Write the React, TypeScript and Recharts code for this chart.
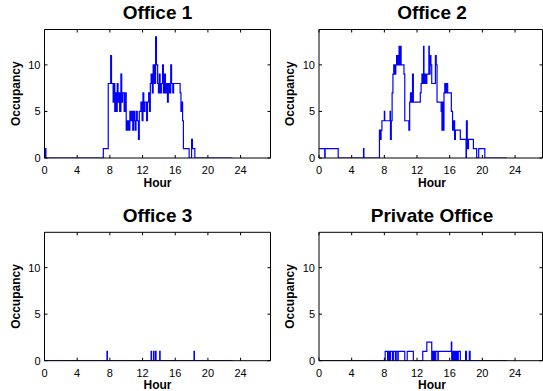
import { LineChart, Line, XAxis, YAxis } from "recharts";

// hours of the day (step changes) and occupancy counts, per office
const office1Hours = [0, 0.1, 0.17, 7.2, 7.8, 8.1, 8.2, 8.4, 8.5, 8.6, 8.7, 8.8, 8.9, 9.0, 9.1, 9.2, 9.35, 9.45, 9.55, 9.75, 9.85, 10.0, 10.15, 10.3, 10.45, 10.55, 10.7, 10.8, 10.9, 11.0, 11.1, 11.2, 11.35, 11.5, 11.6, 11.8, 11.95, 12.05, 12.15, 12.3, 12.5, 12.6, 12.75, 12.85, 12.95, 13.05, 13.2, 13.3, 13.45, 13.6, 13.7, 13.85, 13.95, 14.05, 14.15, 14.3, 14.45, 14.55, 14.7, 14.8, 14.9, 15.05, 15.15, 15.3, 15.45, 15.55, 15.7, 15.8, 16.6, 16.7, 16.8, 16.9, 17.0, 17.7, 18.0, 18.1, 18.4, 23.0];
const office1Occ = [0, 1, 0, 1, 8, 11, 8, 6, 8, 5, 7, 5, 8, 6, 7, 5, 9, 6, 7, 5, 7, 3, 4, 3, 5, 4, 5, 3, 5, 4, 3, 5, 4, 2, 5, 6, 4, 7, 5, 6, 4, 6, 7, 5, 8, 9, 7, 10, 8, 13, 10, 8, 7, 9, 7, 8, 10, 7, 9, 7, 8, 6, 8, 7, 10, 8, 7, 8, 7, 5, 6, 4, 1, 0, 2, 1, 0, 0];

const office2Hours = [0, 0.7, 0.75, 2.35, 5.45, 5.5, 7.4, 7.5, 7.6, 7.7, 8.0, 8.05, 8.7, 8.75, 8.85, 8.95, 9.05, 9.15, 9.3, 9.4, 9.5, 9.6, 9.7, 9.8, 9.85, 10.0, 10.05, 10.4, 10.5, 11.0, 11.1, 11.2, 11.3, 11.45, 11.55, 12.4, 12.5, 12.6, 12.7, 12.8, 12.85, 12.95, 13.1, 13.2, 13.45, 13.5, 13.6, 13.7, 13.8, 14.25, 14.35, 14.45, 14.95, 15.05, 15.1, 15.2, 15.3, 15.4, 15.5, 15.6, 15.75, 16.2, 16.35, 16.5, 16.6, 16.7, 17.3, 18.0, 18.05, 18.15, 18.3, 18.9, 19.3, 19.55, 20.3, 23];
const office2Occ = [1, 0, 1, 0, 1, 0, 3, 2, 3, 4, 5, 4, 5, 2, 4, 7, 9, 10, 9, 10, 11, 10, 11, 12, 10, 12, 10, 9, 4, 3, 6, 7, 6, 9, 6, 7, 8, 9, 8, 12, 8, 9, 8, 9, 12, 9, 11, 10, 8, 11, 10, 6, 5, 3, 6, 3, 7, 8, 7, 8, 7, 5, 3, 4, 2, 3, 2, 0, 4, 1, 2, 1, 0, 1, 0, 0];

const office3Hours = [0, 7.65, 7.7, 13.05, 13.1, 13.35, 13.4, 13.6, 13.65, 14.1, 14.15, 18.3, 18.35, 23];
const office3Occ = [0, 1, 0, 1, 0, 1, 0, 1, 0, 1, 0, 1, 0, 0];

const privateHours = [0, 8.1, 8.4, 8.55, 8.65, 8.75, 9.0, 9.1, 9.35, 9.45, 9.65, 9.7, 10.5, 10.8, 11.55, 12.7, 13.2, 13.8, 13.85, 13.95, 14.05, 14.15, 14.3, 14.55, 14.6, 16.2, 16.25, 16.35, 16.45, 16.55, 16.6, 16.7, 16.75, 16.85, 16.95, 17.05, 17.3, 17.95, 18.05, 18.4, 18.5, 23];
const privateOcc = [0, 1, 0, 1, 0, 1, 0, 1, 0, 1, 0, 1, 0, 1, 0, 1, 2, 0, 1, 0, 1, 0, 1, 0, 1, 2, 0, 1, 0, 1, 0, 1, 0, 1, 0, 1, 0, 1, 0, 1, 0, 0];

const hourTicks = [0, 4, 8, 12, 16, 20, 24];
const occTicks = [0, 5, 10];

const FONT = '"Liberation Sans", Arial, Helvetica, sans-serif';
const BLUE = "#0000ff";

const toRows = (hours: number[], occ: number[]) => hours.map((h, i) => ({ h, v: occ[i] }));

// MATLAB-style ticks: short marks pointing into the box
const BottomTick = ({ x, y, payload }: any) => (
  <g>
    <line x1={x} y1={y} x2={x} y2={y - 3} stroke="#000" />
    <text x={x} y={y + 16} textAnchor="middle" fontSize={11} fontFamily={FONT} fill="#000">
      {payload.value}
    </text>
  </g>
);
const LeftTick = ({ x, y, payload }: any) => (
  <g>
    <line x1={x} y1={y} x2={x + 3} y2={y} stroke="#000" />
    <text x={x - 4} y={y + 4} textAnchor="end" fontSize={11} fontFamily={FONT} fill="#000">
      {payload.value}
    </text>
  </g>
);
const TopTick = ({ x, y }: any) => <line x1={x} y1={y} x2={x} y2={y + 3} stroke="#000" />;
const RightTick = ({ x, y }: any) => <line x1={x} y1={y} x2={x - 3} y2={y} stroke="#000" />;

type PanelProps = {
  title: string;
  hours: number[];
  occ: number[];
  left: number;
  top: number;
  width: number;
  height: number;
  plotLeft: number;
  plotTop: number;
  plotW: number;
  plotH: number;
  xMax: number;
};

function Panel(p: PanelProps) {
  const rows = toRows(p.hours, p.occ);
  const xh = p.height - p.plotTop - p.plotH;
  const cx = p.plotLeft + 113;
  return (
    <div style={{ position: "absolute", left: p.left, top: p.top, width: p.width, height: p.height }}>
      <LineChart
        width={p.width}
        height={p.height}
        data={rows}
        margin={{ top: p.plotTop - 1, right: p.width - p.plotLeft - p.plotW - 1, left: 0, bottom: 0 }}
      >
        <XAxis
          dataKey="h"
          type="number"
          domain={[0, p.xMax]}
          ticks={hourTicks}
          interval={0}
          allowDataOverflow
          height={xh}
          tickSize={0}
          tickMargin={0}
          stroke="#000"
          tick={(t: any) => <BottomTick {...t} />}
        />
        <XAxis
          xAxisId="top"
          orientation="top"
          dataKey="h"
          type="number"
          domain={[0, p.xMax]}
          ticks={hourTicks}
          interval={0}
          allowDataOverflow
          height={1}
          tickSize={0}
          tickMargin={0}
          stroke="#000"
          tick={(t: any) => <TopTick {...t} />}
        />
        <YAxis
          type="number"
          domain={[0, 13.8]}
          ticks={occTicks}
          interval={0}
          allowDataOverflow
          width={p.plotLeft}
          tickSize={0}
          tickMargin={0}
          stroke="#000"
          tick={(t: any) => <LeftTick {...t} />}
        />
        <YAxis
          yAxisId="right"
          orientation="right"
          type="number"
          domain={[0, 13.8]}
          ticks={occTicks}
          interval={0}
          allowDataOverflow
          width={1}
          tickSize={0}
          tickMargin={0}
          stroke="#000"
          tick={(t: any) => <RightTick {...t} />}
        />
        {/* invisible copy so the top / right box axes get drawn */}
        <Line
          xAxisId="top"
          yAxisId="right"
          type="stepAfter"
          dataKey="v"
          stroke="none"
          dot={false}
          activeDot={false}
          isAnimationActive={false}
        />
        <Line
          type="stepAfter"
          dataKey="v"
          stroke={BLUE}
          strokeWidth={1.2}
          dot={false}
          activeDot={false}
          isAnimationActive={false}
        />
      </LineChart>
      <svg
        width={p.width}
        height={p.height}
        style={{ position: "absolute", left: 0, top: 0, pointerEvents: "none" }}
      >
        <text x={cx} y={p.plotTop - 10.4} textAnchor="middle" fontSize={19} fontWeight="bold" fontFamily={FONT} fill="#000">
          {p.title}
        </text>
        <text x={cx} y={p.plotTop + p.plotH + 28.7} textAnchor="middle" fontSize={12} fontWeight="bold" fontFamily={FONT} fill="#000">
          Hour
        </text>
        <text
          x={p.plotLeft - 24.8}
          y={p.plotTop + p.plotH / 2}
          transform={`rotate(-90 ${p.plotLeft - 24.8} ${p.plotTop + p.plotH / 2})`}
          textAnchor="middle"
          fontSize={12}
          fontWeight="bold"
          fontFamily={FONT}
          fill="#000"
        >
          Occupancy
        </text>
      </svg>
    </div>
  );
}

export default function App() {
  return (
    <div style={{ position: "absolute", left: 0, top: 0, width: 543, height: 391, background: "#fff", overflow: "hidden" }}>
      <Panel title="Office 1" hours={office1Hours} occ={office1Occ}
        left={0} top={0} width={273} height={195}
        plotLeft={44.5} plotTop={29.5} plotW={226} plotH={128.5} xMax={27.66} />
      <Panel title="Office 2" hours={office2Hours} occ={office2Occ}
        left={273} top={0} width={270} height={195}
        plotLeft={46} plotTop={29.5} plotW={223.5} plotH={128.5} xMax={27.36} />
      <Panel title="Office 3" hours={office3Hours} occ={office3Occ}
        left={0} top={195} width={273} height={196}
        plotLeft={44.5} plotTop={37.3} plotW={226} plotH={128.4} xMax={27.66} />
      <Panel title="Private Office" hours={privateHours} occ={privateOcc}
        left={273} top={195} width={270} height={196}
        plotLeft={46} plotTop={37.3} plotW={223.5} plotH={128.4} xMax={27.36} />
    </div>
  );
}
